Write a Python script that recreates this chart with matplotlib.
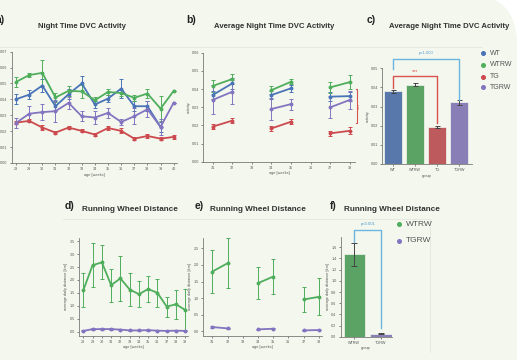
import numpy as np
import matplotlib.pyplot as plt
from matplotlib.patches import FancyBboxPatch
from matplotlib.lines import Line2D
import seaborn as sns

plt.rcParams['font.family'] = ['Liberation Sans', 'DejaVu Sans']

groups = ['WT', 'WTRW', 'TG', 'TGRW']
colors = {'WT': '#4a74b8', 'WTRW': '#4fae5c', 'TG': '#cc4a4e', 'TGRW': '#8374c0'}

# a) weekly night-time activity
weeks_a = list(range(28, 41))
act_a = {
    'WT':   [0.0401, 0.0430, 0.0487, 0.0357, 0.0433, 0.0500, 0.0368, 0.0405, 0.0468, 0.0357, 0.0357, 0.0227, np.nan],
    'WTRW': [0.0510, 0.0553, 0.0567, 0.0412, 0.0454, 0.0450, 0.0395, 0.0447, 0.0440, 0.0410, 0.0437, 0.0342, 0.0454],
    'TG':   [0.0254, 0.0265, 0.0223, 0.0191, 0.0223, 0.0202, 0.0179, 0.0220, 0.0202, 0.0153, 0.0170, 0.0153, 0.0164],
    'TGRW': [0.0252, 0.0310, 0.0320, 0.0326, 0.0378, 0.0294, 0.0286, 0.0315, 0.0258, 0.0294, 0.0338, 0.0227, 0.0380],
}
err_a = {
    'WT':   [0.003, 0.003, 0.004, 0.003, 0.003, 0.005, 0.002, 0.002, 0.006, 0.003, 0.003, 0.003, np.nan],
    'WTRW': [0.003, 0.001, 0.008, 0.003, 0.003, 0.004, 0.002, 0.002, 0.002, 0.002, 0.003, 0.008, 0.0],
    'TG':   [0.001, 0.001, 0.0015, 0.001, 0.001, 0.001, 0.001, 0.001, 0.0015, 0.001, 0.001, 0.001, 0.001],
    'TGRW': [0.003, 0.005, 0.005, 0.007, 0.004, 0.003, 0.004, 0.003, 0.002, 0.005, 0.005, 0.005, 0.0],
}

# b) averaged over week pairs
weeks_b = [31, 32, 34, 35, 37, 38]
act_b = {
    'WT':   [0.0367, 0.0431, 0.0367, 0.0404, 0.0358, 0.0361],
    'WTRW': [0.0417, 0.0455, 0.0394, 0.0440, 0.0409, 0.0438],
    'TG':   [0.0193, 0.0226, 0.0183, 0.0220, 0.0156, 0.0170],
    'TGRW': [0.0340, 0.0385, 0.0290, 0.0317, 0.0299, 0.0340],
}
err_b = {
    'WT':   [0.0020, 0.0030, 0.0020, 0.0020, 0.0025, 0.0025],
    'WTRW': [0.0035, 0.0030, 0.0020, 0.0015, 0.0030, 0.0040],
    'TG':   [0.0015, 0.0015, 0.0015, 0.0015, 0.0015, 0.0020],
    'TGRW': [0.0080, 0.0065, 0.0060, 0.0030, 0.0060, 0.0050],
}

# c) group means
mean_c = [0.0380, 0.0415, 0.0193, 0.0322]
err_c = [0.0008, 0.0010, 0.0006, 0.0013]

# d) running wheel distance per week
weeks_d = list(range(28, 40))
dist_wtrw = [1.61, 2.57, 2.68, 1.80, 2.06, 1.63, 1.45, 1.65, 1.50, 0.97, 1.06, 0.84]
derr_wtrw = [0.65, 0.85, 0.66, 0.64, 0.87, 0.62, 0.51, 0.50, 0.53, 0.39, 0.57, 0.82]
dist_tgrw = [0.03, 0.10, 0.10, 0.10, 0.08, 0.05, 0.05, 0.06, 0.04, 0.03, 0.04, 0.03]
derr_tgrw = [0.02, 0.03, 0.03, 0.04, 0.03, 0.02, 0.02, 0.02, 0.02, 0.01, 0.02, 0.02]

# e) week pairs
weeks_e = [31, 32, 34, 35, 37, 38]
dist_e_wtrw = [1.80, 2.05, 1.45, 1.65, 0.96, 1.04]
derr_e_wtrw = [0.66, 0.75, 0.49, 0.52, 0.38, 0.56]
dist_e_tgrw = [0.13, 0.09, 0.06, 0.08, 0.03, 0.04]
derr_e_tgrw = [0.04, 0.02, 0.02, 0.02, 0.01, 0.01]

# f) overall mean distance
groups_f = ['WTRW', 'TGRW']
mean_f = [1.475, 0.05]
err_f = [0.21, 0.01]

W, H = 524, 360
fig = plt.figure(figsize=(W / 100, H / 100), dpi=100, facecolor='white')
fig.add_artist(FancyBboxPatch((-1, -1), (517 + 100) / 100, (H + 105.6) / 100,
                              boxstyle='round,pad=0,rounding_size=0.5',
                              transform=fig.dpi_scale_trans, fc='#f4f7ee', ec='none', zorder=-10))


def px_axes(l, t, r, b):
    ax = fig.add_axes([l / W, 1 - b / H, (r - l) / W, (b - t) / H])
    ax.set_facecolor('none')
    for s in ['top', 'right']:
        ax.spines[s].set_visible(False)
    for s in ['left', 'bottom']:
        ax.spines[s].set_color('#7a7a7a')
        ax.spines[s].set_linewidth(0.6)
    ax.tick_params(length=1.5, width=0.5, labelsize=2.7, colors='#555555', pad=1.5)
    return ax


def fig_line(xs, ys, **kw):
    fig.add_artist(Line2D([x / W for x in xs], [1 - y / H for y in ys],
                          transform=fig.transFigure, **kw))


def fig_text(x, y, s, **kw):
    fig.text(x / W, 1 - y / H, s, **kw)


# faint panel borders
fig_line([0, 482], [47, 47], color='#e3e7dc', lw=0.6)
fig_line([63, 430, 430], [219, 219, 352], color='#e3e7dc', lw=0.6)

ekw = dict(capsize=1.3, elinewidth=0.7, capthick=0.7, lw=1.3, marker='o', markersize=1.8)
title_kw = dict(fontweight='bold', color='#333333', ha='center', va='center')
tag_kw = dict(fontsize=7.5, fontweight='bold', color='#222222', va='center')
lab_kw = dict(fontsize=2.8, color='#555555', labelpad=1)

# ---- a
ax = px_axes(11.7, 51.7, 177, 163)
for g in ['WT', 'WTRW', 'TG', 'TGRW']:
    ax.errorbar(weeks_a, act_a[g], yerr=err_a[g], color=colors[g], **ekw)
ax.set_xlim(27.67, 40.25)
ax.set_ylim(0, 0.07)
ax.set_xticks(weeks_a)
ax.set_yticks(np.arange(0, 0.071, 0.01))
ax.set_yticklabels(['%.2f' % v for v in np.arange(0, 0.071, 0.01)])
ax.set_xlabel('age [weeks]', **lab_kw)
fig_text(81.5, 26, 'Night Time DVC Activity', fontsize=5.6, **title_kw)
fig_text(-4, 20, 'a)', **tag_kw)

# ---- b
ax = px_axes(203.3, 52.7, 355, 161.7)
for g in ['WT', 'WTRW', 'TG', 'TGRW']:
    for i in range(0, 6, 2):
        ax.errorbar(weeks_b[i:i + 2], act_b[g][i:i + 2], yerr=err_b[g][i:i + 2], color=colors[g], **ekw)
ax.set_xlim(30.52, 38.27)
ax.set_ylim(0, 0.06)
ax.set_xticks(range(31, 39))
ax.set_yticks(np.arange(0, 0.061, 0.01))
ax.set_yticklabels(['%.2f' % v for v in np.arange(0, 0.061, 0.01)])
ax.set_xlabel('age [weeks]', **lab_kw)
ax.set_ylabel('activity', **lab_kw)
ax.plot([38.32, 38.38, 38.38, 38.32], [0.040, 0.040, 0.0213, 0.0213], color='#d9534f', lw=0.8, clip_on=False)
ax.text(38.5, 0.0306, '***', color='#d9534f', fontsize=4, rotation=90, ha='center', va='center', clip_on=False)
fig_text(273.7, 26.7, 'Average Night Time DVC Activity', fontsize=5.6, **title_kw)
fig_text(186, 20, 'b)', **tag_kw)

# ---- c
ax = px_axes(382.3, 68.3, 472, 164)
bar_cols = [sns.desaturate(colors[g], 0.75) for g in groups]
ax.bar(range(4), mean_c, width=0.8, color=bar_cols, edgecolor='#f4f7ee', lw=0.5,
       yerr=err_c, error_kw=dict(ecolor='#444444', elinewidth=0.7, capsize=1.8, capthick=0.7))
ax.set_xlim(-0.47, 3.57)
ax.set_ylim(0, 0.05)
ax.set_xticks(range(4))
ax.set_xticklabels(['WT', 'WTRW', 'TG', 'TGRW'])
ax.set_yticks(np.arange(0, 0.051, 0.01))
ax.set_yticklabels(['%.2f' % v for v in np.arange(0, 0.051, 0.01)])
ax.set_xlabel('group', **lab_kw)
ax.set_ylabel('activity', **lab_kw)
ax.plot([0, 0, 3, 3], [0.0495, 0.0548, 0.0548, 0.0335], color='#6bb5e0', lw=1.0, clip_on=False)
ax.text(1.5, 0.0582, 'p=1.000', color='#4a9ad0', fontsize=3, ha='center', va='center', clip_on=False)
ax.plot([0, 0, 2, 2], [0.0395, 0.0460, 0.0460, 0.0213], color='#d9534f', lw=1.0, clip_on=False)
ax.text(1, 0.0485, '***', color='#d9534f', fontsize=4, ha='center', va='center', clip_on=False)
fig_text(449, 27, 'Average Night Time DVC Activity', fontsize=5.6, **title_kw)
fig_text(367, 20, 'c)', **tag_kw)
for i, g in enumerate(groups):
    y = [53.3, 65, 76.7, 87.3][i]
    fig_line([482.7], [y], marker='o', markersize=2.6, color=colors[g], lw=0)
    fig_text(489.5, y, g, fontsize=5, color='#555555', va='center')

# ---- d
ax = px_axes(79, 238.3, 188.3, 335.7)
ax.errorbar(weeks_d, dist_wtrw, yerr=derr_wtrw, color=colors['WTRW'], **ekw)
ax.errorbar(weeks_d, dist_tgrw, yerr=derr_tgrw, color=colors['TGRW'], **ekw)
ax.set_xlim(27.53, 39.33)
ax.set_ylim(-0.155, 3.61)
ax.set_xticks(weeks_d)
ax.set_yticks(np.arange(0, 3.6, 0.5))
ax.set_yticklabels(['%.1f' % v for v in np.arange(0, 3.6, 0.5)])
ax.set_xlabel('age [weeks]', **lab_kw)
ax.set_ylabel('average daily distance [km]', **lab_kw)
fig_text(130, 209, 'Running Wheel Distance', fontsize=5.9, **title_kw)
fig_text(65, 206, 'd)', **tag_kw)

# ---- e
ax = px_axes(203, 238, 322, 335.7)
for i in range(0, 6, 2):
    ax.errorbar(weeks_e[i:i + 2], dist_e_wtrw[i:i + 2], yerr=derr_e_wtrw[i:i + 2], color=colors['WTRW'], **ekw)
    ax.errorbar(weeks_e[i:i + 2], dist_e_tgrw[i:i + 2], yerr=derr_e_tgrw[i:i + 2], color=colors['TGRW'], **ekw)
ax.set_xlim(30.39, 38.2)
ax.set_ylim(-0.13, 2.81)
ax.set_xticks(range(31, 39))
ax.set_yticks(np.arange(0, 2.6, 0.5))
ax.set_yticklabels(['%.1f' % v for v in np.arange(0, 2.6, 0.5)])
ax.set_xlabel('age [weeks]', **lab_kw)
ax.set_ylabel('average daily distance [km]', **lab_kw)
fig_text(258, 209, 'Running Wheel Distance', fontsize=5.9, **title_kw)
fig_text(195, 206, 'e)', **tag_kw)

# ---- f
ax = px_axes(340.7, 236.7, 391.7, 336.7)
ax.bar(range(2), mean_f, width=0.79, color=[sns.desaturate(colors[g], 0.75) for g in groups_f],
       edgecolor='#f4f7ee', lw=0.5, yerr=err_f,
       error_kw=dict(ecolor='#444444', elinewidth=0.7, capsize=2.2, capthick=0.7))
ax.set_xlim(-0.51, 1.4)
ax.set_ylim(0, 1.79)
ax.set_xticks(range(2))
ax.set_xticklabels(groups_f)
ax.set_yticks(np.arange(0, 1.61, 0.2))
ax.set_yticklabels(['%.1f' % v for v in np.arange(0, 1.61, 0.2)])
ax.set_xlabel('group', **lab_kw)
ax.set_ylabel('average daily distance [km]', **lab_kw)
ax.plot([0, 0, 1, 1], [1.70, 1.91, 1.91, 0.15], color='#6bb5e0', lw=1.0, clip_on=False)
ax.text(0.5, 2.02, 'p<0.001', color='#4a9ad0', fontsize=3, ha='center', va='center', clip_on=False)
fig_text(392, 209, 'Running Wheel Distance', fontsize=5.9, **title_kw)
fig_text(330, 206, 'f)', **tag_kw)
for i, g in enumerate(groups_f):
    y = [224.3, 240.7][i]
    fig_line([399], [y], marker='o', markersize=2.6, color=colors[g], lw=0)
    fig_text(406, y, g, fontsize=6, color='#555555', va='center')

fig.savefig('out.png', dpi=100)
